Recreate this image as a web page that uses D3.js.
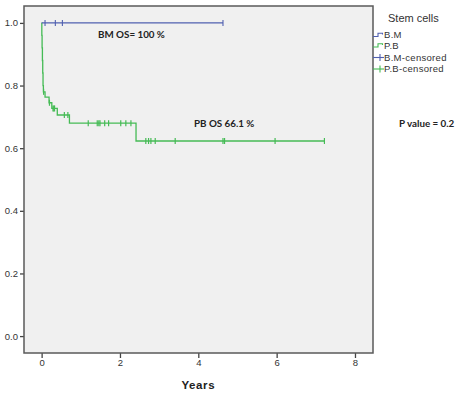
<!DOCTYPE html>
<html>
<head>
<meta charset="utf-8">
<script src="https://cdn.jsdelivr.net/npm/d3@7"></script>
<style>
  body { margin: 0; background: #fff; }
  svg { display: block; }
</style>
</head>
<body>
<div id="chart"></div>
<script>
// Kaplan-Meier steps: [time (years), survival]
const bmSteps = [[0, 1.0], [4.63, 1.0]];
const pbSteps = [
  [0, 1.0], [0.005, 0.96], [0.012, 0.92], [0.02, 0.88], [0.028, 0.84],
  [0.036, 0.80], [0.045, 0.78], [0.087, 0.763], [0.19, 0.745],
  [0.26, 0.727], [0.40, 0.706], [0.71, 0.68], [2.41, 0.623], [7.22, 0.623]
];
// censored observations
const bmCensored = [0.087, 0.35, 0.53, 4.63];
const pbCensored = [0.05, 0.2, 0.29, 0.31, 0.33, 0.58, 0.67,
  1.19, 1.42, 1.46, 1.49, 1.61, 1.71, 2.02, 2.15, 2.28,
  2.66, 2.73, 2.79, 2.90, 3.41, 4.63, 4.67, 5.96, 7.22];
const xTicks = [0, 2, 4, 6, 8];
const yTicks = [0.0, 0.2, 0.4, 0.6, 0.8, 1.0];
const legendItems = ["B.M", "P.B", "B.M-censored", "P.B-censored"];

const width = 460, height = 394;
const box = { left: 24, top: 6, right: 373, bottom: 353 };
const blue = "#5060b0", green = "#45bb55";

const svg = d3.select("#chart").append("svg")
  .attr("width", width).attr("height", height);

const x = d3.scaleLinear().domain([-0.45, 8.46]).range([box.left, box.right]);
const y = d3.scaleLinear().domain([-0.054, 1.054]).range([box.bottom, box.top]);

svg.append("rect")
  .attr("x", box.left).attr("y", box.top)
  .attr("width", box.right - box.left).attr("height", box.bottom - box.top)
  .attr("fill", "#f0f0f0");

// survival value at time t for a step list
function survAt(steps, t) {
  let s = steps[0][1];
  for (const d of steps) if (d[0] <= t) s = d[1];
  return s;
}

const line = d3.line().x(d => x(d[0])).y(d => y(d[1])).curve(d3.curveStepAfter);

svg.append("path").datum(pbSteps)
  .attr("d", line).attr("fill", "none")
  .attr("stroke", green).attr("stroke-width", 1.3);
svg.append("path").datum(bmSteps)
  .attr("d", line).attr("fill", "none")
  .attr("stroke", blue).attr("stroke-width", 1.2);

svg.selectAll(".pbc").data(pbCensored).enter().append("line")
  .attr("x1", d => x(d)).attr("x2", d => x(d))
  .attr("y1", d => y(survAt(pbSteps, d)) - 3)
  .attr("y2", d => y(survAt(pbSteps, d)) + 3)
  .attr("stroke", green).attr("stroke-width", 1.2);
svg.selectAll(".bmc").data(bmCensored).enter().append("line")
  .attr("x1", d => x(d)).attr("x2", d => x(d))
  .attr("y1", d => y(survAt(bmSteps, d)) - 3)
  .attr("y2", d => y(survAt(bmSteps, d)) + 3)
  .attr("stroke", blue).attr("stroke-width", 1.1);

// axes
const xAxis = svg.append("g")
  .attr("transform", `translate(0,${box.bottom})`)
  .call(d3.axisBottom(x).tickValues(xTicks).tickFormat(d3.format("d")).tickSize(5).tickSizeOuter(0));
const yAxis = svg.append("g")
  .attr("transform", `translate(${box.left},0)`)
  .call(d3.axisLeft(y).tickValues(yTicks).tickFormat(d3.format(".1f")).tickSize(4).tickSizeOuter(0));
[xAxis, yAxis].forEach(g => {
  g.select(".domain").remove();
  g.selectAll("line").attr("stroke", "#444").attr("stroke-width", 1.3);
  g.selectAll("text").attr("fill", "#333")
    .style("font-family", "Liberation Sans, Arial, sans-serif").style("font-size", "9.5px");
});
xAxis.selectAll("text").attr("dy", "0.9em").attr("y", 4);
yAxis.selectAll("text").attr("x", -6);

svg.append("rect")
  .attr("x", box.left).attr("y", box.top)
  .attr("width", box.right - box.left).attr("height", box.bottom - box.top)
  .attr("fill", "none").attr("stroke", "#5a5a5a").attr("stroke-width", 1.5);

svg.append("text")
  .attr("x", x(4)).attr("y", 389).attr("text-anchor", "middle")
  .style("font-family", "Liberation Sans, Arial, sans-serif")
  .style("font-size", "11.5px").style("font-weight", "bold")
  .style("letter-spacing", "0.6px").attr("fill", "#222")
  .text("Years");

// annotations
const anno = svg.append("g")
  .style("font-family", "Lato, Open Sans, sans-serif")
  .style("font-size", "9.8px").style("font-weight", "bold").attr("fill", "#222");
anno.append("text").attr("x", 98).attr("y", 37.5).text("BM OS= 100 %");
anno.append("text").attr("x", 194).attr("y", 126.5).text("PB OS 66.1 %");
anno.append("text").attr("x", 399).attr("y", 126.5).text("P value = 0.2");

// legend
const lg = svg.append("g").style("font-family", "Liberation Sans, Arial, sans-serif");
lg.append("text").attr("x", 388).attr("y", 21.5).attr("fill", "#333")
  .style("font-size", "11px").text("Stem cells");
const rowY = [35, 45.5, 57.5, 69];
legendItems.forEach((name, i) => {
  const cy = rowY[i];
  const col = i % 2 === 0 ? blue : green;
  if (i < 2) {
    lg.append("path")
      .attr("d", `M373,${cy + 1.5}H378V${cy - 1.8}H382.5V${cy - 0.5}`)
      .attr("fill", "none").attr("stroke", col).attr("stroke-width", 1.1);
  } else {
    lg.append("line").attr("x1", 373).attr("x2", 384).attr("y1", cy).attr("y2", cy)
      .attr("stroke", col).attr("stroke-width", 1.1);
    lg.append("line").attr("x1", 380).attr("x2", 380).attr("y1", cy - 3.5).attr("y2", cy + 3.5)
      .attr("stroke", col).attr("stroke-width", 1.1);
  }
  lg.append("text").attr("x", 384).attr("y", cy + 3.3).attr("fill", "#333")
    .style("font-size", "9.5px").style("letter-spacing", "0.3px").text(name);
});
</script>
</body>
</html>
